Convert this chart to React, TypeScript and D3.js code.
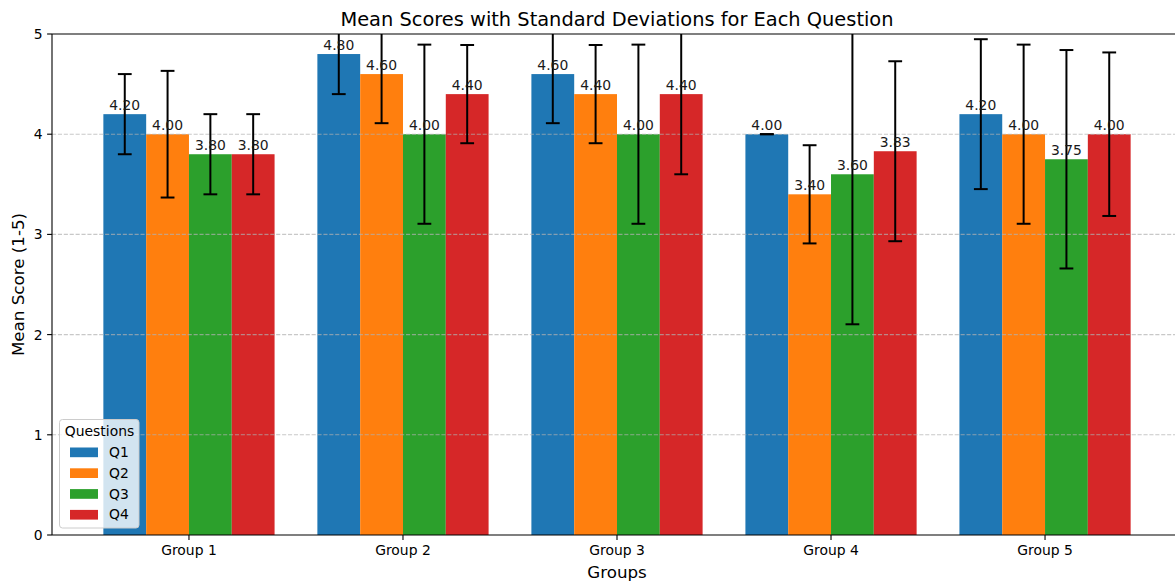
import React from 'react';
import * as d3 from 'd3';

const groups = ['Group 1', 'Group 2', 'Group 3', 'Group 4', 'Group 5'];
const questions = ['Q1', 'Q2', 'Q3', 'Q4'];
const colors = ['#1f77b4', '#ff7f0e', '#2ca02c', '#d62728'];

// mean score per question, one value per group
const q1Means = [4.2, 4.8, 4.6, 4.0, 4.2];
const q2Means = [4.0, 4.6, 4.4, 3.4, 4.0];
const q3Means = [3.8, 4.0, 4.0, 3.6, 3.75];
const q4Means = [3.8, 4.4, 4.4, 3.83, 4.0];

// standard deviations
const q1Std = [0.4, 0.4, 0.49, 0, 0.748];
const q2Std = [0.632, 0.49, 0.49, 0.49, 0.894];
const q3Std = [0.4, 0.894, 0.894, 1.497, 1.09];
const q4Std = [0.4, 0.49, 0.8, 0.898, 0.816];

const yTicks = [0, 1, 2, 3, 4, 5];

const means = [q1Means, q2Means, q3Means, q4Means];
const stds = [q1Std, q2Std, q3Std, q4Std];

const width = 1175;
const height = 582;
const margin = { left: 52, top: 34, right: 1182, bottom: 535 };
const barWidth = 0.2;
const font = 'DejaVu Sans, sans-serif';

const App = () => {
  const x = d3.scaleLinear().domain([-0.64, 4.64]).range([margin.left, margin.right]);
  const y = d3.scaleLinear().domain([0, 5]).range([margin.bottom, margin.top]);
  const bw = x(barWidth) - x(0);
  const cap = 6.9;

  return (
    <svg
      width={width}
      height={height}
      style={{ position: 'absolute', left: 0, top: 0, fontFamily: font }}
    >
      <defs>
        <clipPath id="plot">
          <rect x={margin.left} y={margin.top} width={margin.right - margin.left} height={margin.bottom - margin.top} />
        </clipPath>
      </defs>
      <rect width={width} height={height} fill="#fff" />

      {/* bars */}
      <g clipPath="url(#plot)">
        {questions.map((q, qi) => (
          <g key={q}>
            {groups.map((g, gi) => {
              const cx = x(gi + (qi - 1.5) * barWidth);
              return (
                <rect
                  key={g}
                  x={cx - bw / 2}
                  y={y(means[qi][gi])}
                  width={bw}
                  height={y(0) - y(means[qi][gi])}
                  fill={colors[qi]}
                />
              );
            })}
          </g>
        ))}

        {/* grid */}
        {yTicks.slice(1, 5).map((t) => (
          <line
            key={t}
            x1={margin.left}
            x2={margin.right}
            y1={y(t)}
            y2={y(t)}
            stroke="#b0b0b0"
            strokeOpacity={0.7}
            strokeWidth={1.1}
            strokeDasharray="4.1,1.8"
          />
        ))}

        {/* error bars */}
        {questions.map((q, qi) =>
          groups.map((g, gi) => {
            const cx = x(gi + (qi - 1.5) * barWidth);
            const lo = y(means[qi][gi] - stds[qi][gi]);
            const hi = y(means[qi][gi] + stds[qi][gi]);
            return (
              <g key={q + g} stroke="#000" strokeWidth={2}>
                <line x1={cx} x2={cx} y1={lo} y2={hi} />
                <line x1={cx - cap} x2={cx + cap} y1={lo} y2={lo} />
                <line x1={cx - cap} x2={cx + cap} y1={hi} y2={hi} />
              </g>
            );
          })
        )}
      </g>

      {/* value labels */}
      {questions.map((q, qi) =>
        groups.map((g, gi) => (
          <text
            key={q + g}
            x={x(gi + (qi - 1.5) * barWidth)}
            y={y(means[qi][gi]) - 4.5}
            textAnchor="middle"
            fontSize={13.9}
            fill="#1a1a1a"
          >
            {means[qi][gi].toFixed(2)}
          </text>
        ))
      )}

      {/* spines */}
      <line x1={margin.left} x2={margin.left} y1={margin.top} y2={margin.bottom} stroke="#000" strokeWidth={1.1} />
      <line x1={margin.left} x2={margin.right} y1={margin.top} y2={margin.top} stroke="#000" strokeWidth={1.1} />
      <line x1={margin.left} x2={margin.right} y1={margin.bottom} y2={margin.bottom} stroke="#000" strokeWidth={1.1} />

      {/* y axis */}
      {yTicks.map((t) => (
        <g key={t}>
          <line x1={margin.left - 4.9} x2={margin.left} y1={y(t)} y2={y(t)} stroke="#000" strokeWidth={1.1} />
          <text x={margin.left - 9.5} y={y(t) + 5} textAnchor="end" fontSize={13.9} fill="#000">
            {t}
          </text>
        </g>
      ))}

      {/* x axis */}
      {groups.map((g, gi) => (
        <g key={g}>
          <line x1={x(gi)} x2={x(gi)} y1={margin.bottom} y2={margin.bottom + 4.9} stroke="#000" strokeWidth={1.1} />
          <text x={x(gi)} y={margin.bottom + 20} textAnchor="middle" fontSize={13.9} fill="#000">
            {g}
          </text>
        </g>
      ))}

      {/* titles */}
      <text x={(margin.left + margin.right) / 2} y={26} textAnchor="middle" fontSize={19.4} fill="#000">
        Mean Scores with Standard Deviations for Each Question
      </text>
      <text x={(margin.left + margin.right) / 2} y={578} textAnchor="middle" fontSize={16.7} fill="#000">
        Groups
      </text>
      <text
        transform={`translate(24, ${(margin.top + margin.bottom) / 2}) rotate(-90)`}
        textAnchor="middle"
        fontSize={16.7}
        fill="#000"
      >
        Mean Score (1-5)
      </text>

      {/* legend */}
      <g>
        <rect x={59.5} y={419.5} width={79.5} height={108.5} rx={3} fill="#fff" fillOpacity={0.8} stroke="#cccccc" strokeWidth={1} />
        <text x={99.5} y={436} textAnchor="middle" fontSize={13.9} fill="#000">
          Questions
        </text>
        {questions.map((q, qi) => (
          <g key={q}>
            <rect x={70} y={447.5 + qi * 20.8} width={28} height={9.7} fill={colors[qi]} />
            <text x={109} y={457 + qi * 20.8} fontSize={13.9} fill="#000">
              {q}
            </text>
          </g>
        ))}
      </g>
    </svg>
  );
};

export default App;
